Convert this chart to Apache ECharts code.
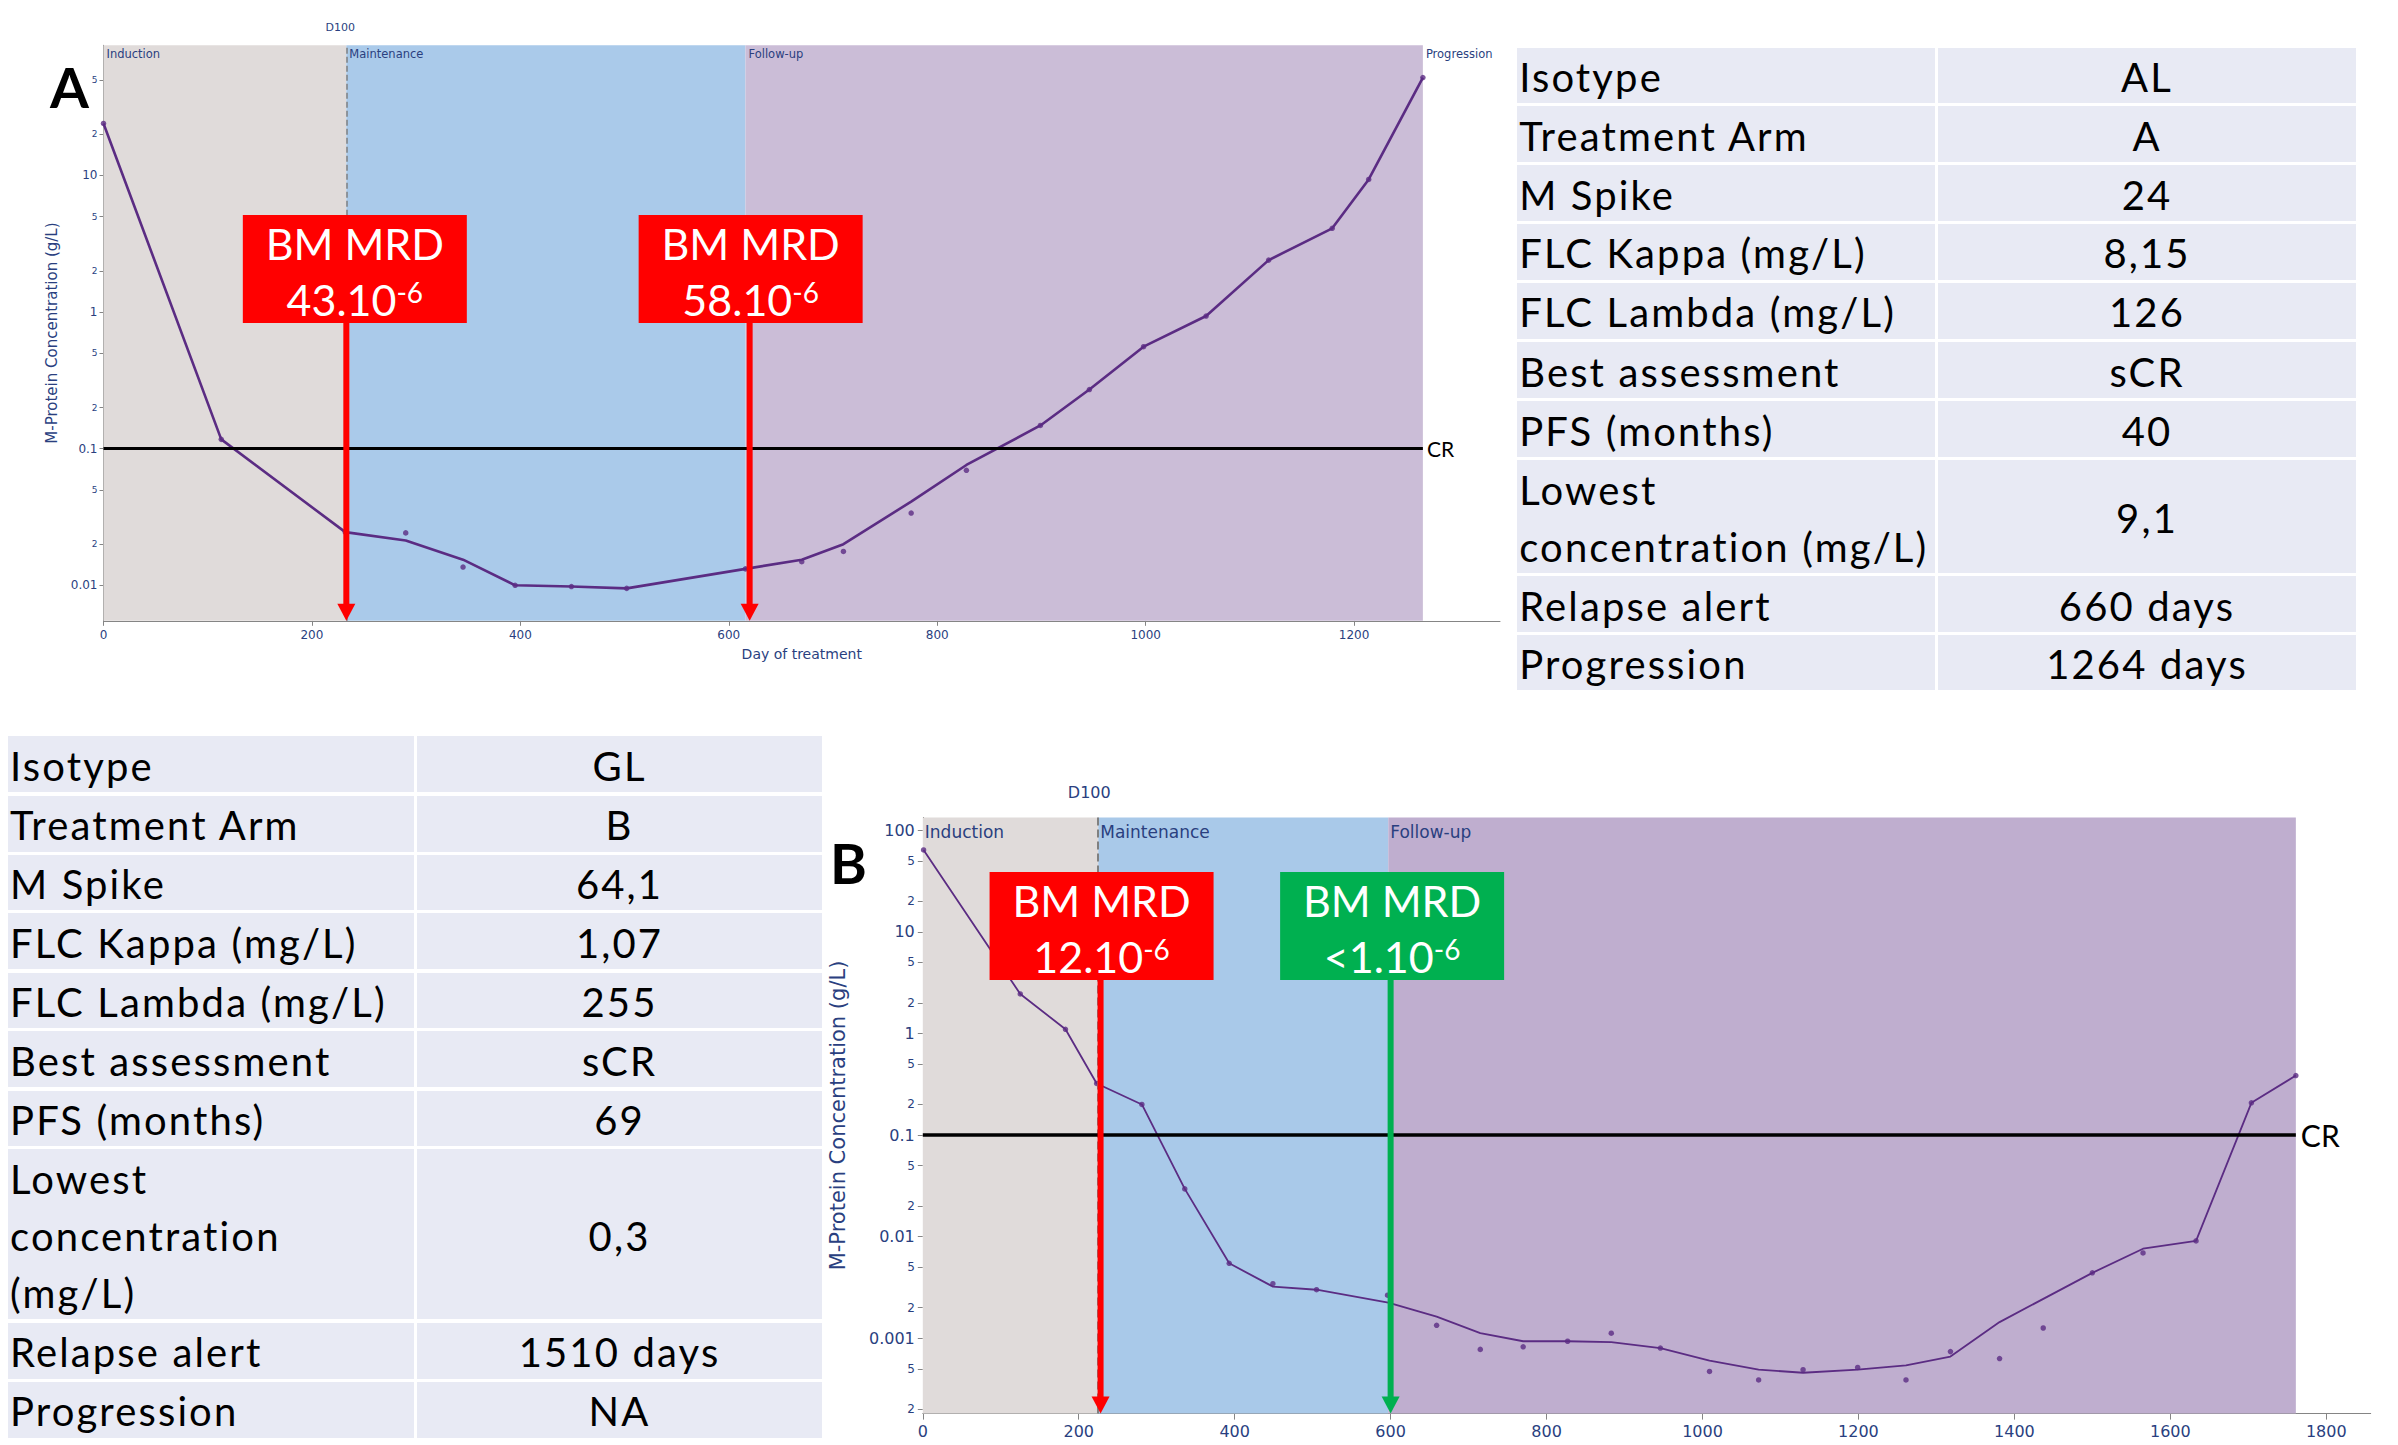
<!DOCTYPE html>
<html><head><meta charset="utf-8">
<script src="https://cdn.jsdelivr.net/npm/echarts@6/dist/echarts.min.js"></script>
<style>
html,body{margin:0;padding:0;background:#fff;width:2398px;height:1445px;overflow:hidden;}
#chart{position:absolute;left:0;top:0;width:2398px;height:1445px;}
.cell{position:absolute;background:#e8eaf4;font-family:Lato,'Open Sans',sans-serif;color:#000;display:flex;align-items:center;box-sizing:border-box;white-space:pre-line;line-height:57px;padding-top:4px;}
.lab{justify-content:flex-start;padding-left:2px;}
.val{justify-content:center;text-align:center;}
</style></head><body>
<div id="chart"></div>
<div id="tables"></div>
<script>
// ---------------- DATA ----------------
// Panel A (days, fitted curve and measured points, g/L)
const daysA = [0,113,232,290,345,395,449,502,616,670,710,775,828,899,946,998,1058,1118,1179,1214,1266];
const fitA = [24,0.117,0.0245,0.0213,0.0154,0.0100,0.0098,0.0095,0.0132,0.0154,0.0200,0.041,0.076,0.148,0.271,0.558,0.935,2.40,4.10,9.35,52];
const measuredA = [24,0.117,0.0245,0.0242,0.0136,0.0100,0.0098,0.0095,0.0132,0.0149,0.0177,0.0338,0.0695,0.148,0.271,0.558,0.935,2.40,4.10,9.35,52];
// Panel B
const fitDaysB = [1,125,183,223,281,336,393,449,505,597,659,715,770,827,883,946,1009,1072,1129,1199,1261,1318,1381,1500,1565,1633,1704,1761];
const fitB = [64.1,2.45,1.10,0.322,0.20,0.0295,0.00546,0.00322,0.0030,0.00224,0.00163,0.00112,0.000933,0.000933,0.000916,0.0008,0.0006,0.00049,0.000457,0.00049,0.00054,0.00066,0.00144,0.0044,0.0076,0.00908,0.2075,0.385];
const measDaysB = [1,125,183,223,281,336,393,449,505,596,659,715,770,827,883,946,1009,1072,1129,1199,1261,1318,1381,1437,1500,1565,1633,1704,1761];
const measB = [64.1,2.45,1.10,0.322,0.20,0.0295,0.00546,0.00344,0.0030,0.00265,0.00134,0.000776,0.000822,0.000933,0.00112,0.0008,0.000471,0.000388,0.00049,0.000515,0.000388,0.000738,0.000631,0.00126,0.0044,0.0069,0.00908,0.2075,0.385];

// Phases
const phaseNames = ['Induction','Maintenance','Follow-up'];
const phaseStartA = [0,233,616];
const phaseEndA = [233,616,1266];
const phaseStartB = [0,225,597];
const phaseEndB = [225,597,1761];
const progressionDayA = 1266;
const d100A = 233, d100B = 225;
const crLevel = 0.1;

// MRD annotations
const mrdDaysA = [233,620];
const mrdValuesA = ['43.10','58.10'];
const mrdExpA = ['-6','-6'];
const mrdDaysB = [228,600];
const mrdValuesB = ['12.10','<1.10'];
const mrdExpB = ['-6','-6'];

// Axes ticks
const xTicksA = [0,200,400,600,800,1000,1200];
const xTicksB = [0,200,400,600,800,1000,1200,1400,1600,1800];
const yTicksA = [0.01,0.02,0.05,0.1,0.2,0.5,1,2,5,10,20,50];
const yTickLabelsA = ['0.01','2','5','0.1','2','5','1','2','5','10','2','5'];
const yTicksB = [0.0002,0.0005,0.001,0.002,0.005,0.01,0.02,0.05,0.1,0.2,0.5,1,2,5,10,20,50,100];
const yTickLabelsB = ['2','5','0.001','2','5','0.01','2','5','0.1','2','5','1','2','5','10','2','5','100'];

// Tables
const tableALabels = ['Isotype','Treatment Arm','M Spike','FLC Kappa (mg/L)','FLC Lambda (mg/L)','Best assessment','PFS (months)','Lowest\nconcentration (mg/L)','Relapse alert','Progression'];
const tableAValues = ['AL','A','24','8,15','126','sCR','40','9,1','660 days','1264 days'];
const tableBLabels = ['Isotype','Treatment Arm','M Spike','FLC Kappa (mg/L)','FLC Lambda (mg/L)','Best assessment','PFS (months)','Lowest\nconcentration\n(mg/L)','Relapse alert','Progression'];
const tableBValues = ['GL','B','64,1','1,07','255','sCR','69','0,3','1510 days','NA'];

// ---------------- STYLE / LAYOUT ----------------
const FONT = 'DejaVu Sans';
const NAVY = '#2a3f7f';
const AXC = '#858585';
const PURPLE = '#5b2c83';
const phaseColorsA = ['#e0dbda','#aacaea','#cbbdd7'];
const phaseColorsB = ['#e0dbda','#a9c9e9','#bfaecf'];
const mrdColorsA = ['#ff0000','#ff0000'];
const mrdColorsB = ['#ff0000','#00b050'];
const tableEdgesA = [48,104.8,163.8,222.3,281.3,340.3,399.7,458.6,574.9,633.8,691.5];
const tableEdgesB = [736.2,794,853,911.9,971,1029.8,1089,1147.6,1321,1380,1439];

function logFmt(ticks, labels){
  return function(v){
    let best=-1, bd=1e9;
    ticks.forEach((t,i)=>{const d=Math.abs(Math.log10(t)-Math.log10(v)); if(d<bd){bd=d;best=i;}});
    if(best<0||bd>1e-3) return '';
    const lg=Math.log10(ticks[best]);
    const major=Math.abs(lg-Math.round(lg))<1e-6;
    return (major?'{maj|':'{mn|')+labels[best]+'}';
  };
}
const plainFmt = v => String(Math.round(v));

function mrdRender(vals, exps, colors, boxTop, shifts){
  return function(params, api){
    const i = api.value(2);
    const x = api.coord([api.value(0), 1])[0];
    const cs = params.coordSys;
    const bottom = cs.y + cs.height;
    const top = cs.y + boxTop;
    const cx = x + shifts[i];
    const col = colors[i];
    return {type:'group', children:[
      {type:'rect', shape:{x:x-3, y:top+100, width:6, height:bottom-16-top-100}, style:{fill:col}},
      {type:'polygon', shape:{points:[[x-9,bottom-17],[x+9,bottom-17],[x,bottom]]}, style:{fill:col}},
      {type:'rect', shape:{x:cx-112, y:top, width:224, height:108}, style:{fill:col}},
      {type:'text', style:{text:'BM MRD', x:cx, y:top+28, align:'center', verticalAlign:'middle', fill:'#fff', fontFamily:'Lato', fontSize:43}},
      {type:'text', style:{text:'{n|'+vals[i]+'}{s|'+exps[i]+'}', x:cx, y:top+84, align:'center', verticalAlign:'middle', fill:'#fff', fontFamily:'Lato', fontSize:43,
        rich:{n:{fontSize:43, fill:'#fff', fontFamily:'Lato'}, s:{fontSize:28, fill:'#fff', fontFamily:'Lato', verticalAlign:'top'}}}}
    ]};
  };
}

function phaseAreas(starts, ends, colors){
  return starts.map((s,i)=>[
    {xAxis:s, itemStyle:{color:colors[i]}, label:{show:true, formatter:phaseNames[i]}},
    {xAxis:ends[i]}
  ]);
}

const chart = echarts.init(document.getElementById('chart'), null, {renderer:'svg'});

const areasA = phaseAreas(phaseStartA, phaseEndA, phaseColorsA);
areasA.push([{xAxis:progressionDayA, itemStyle:{color:'rgba(0,0,0,0)'}, label:{show:true, formatter:'Progression'}},{xAxis:1340}]);
const areasB = phaseAreas(phaseStartB, phaseEndB, phaseColorsB);

const option = {
  animation:false,
  backgroundColor:'#fff',
  grid:[
    {left:103.5, top:45.3, width:1396.5, height:575.5},
    {left:922.8, top:817.4, width:1447.9, height:596.2}
  ],
  xAxis:[
    {gridIndex:0, type:'value', min:0, max:1340, interval:200,
     axisLine:{show:true, lineStyle:{color:AXC, width:1}},
     axisTick:{show:true, length:5, lineStyle:{color:AXC}, customValues:xTicksA},
     axisLabel:{customValues:xTicksA, formatter:plainFmt, color:NAVY, fontFamily:FONT, fontSize:12, margin:8},
     splitLine:{show:false},
     name:'Day of treatment', nameLocation:'middle', nameGap:26,
     nameTextStyle:{color:NAVY, fontFamily:FONT, fontSize:14}},
    {gridIndex:1, type:'value', min:0, max:1857, interval:200,
     axisLine:{show:true, lineStyle:{color:AXC, width:1}},
     axisTick:{show:true, length:6, lineStyle:{color:AXC}, customValues:xTicksB},
     axisLabel:{customValues:xTicksB, formatter:plainFmt, color:NAVY, fontFamily:FONT, fontSize:16, margin:10},
     splitLine:{show:false}}
  ],
  yAxis:[
    {gridIndex:0, type:'log', logBase:10, min:0.0055, max:89.6,
     axisLine:{show:true, lineStyle:{color:AXC, width:1}},
     axisTick:{show:true, length:4, lineStyle:{color:AXC}, customValues:yTicksA},
     axisLabel:{customValues:yTicksA, formatter:logFmt(yTicksA, yTickLabelsA), margin:6,
       rich:{maj:{fontSize:12, color:NAVY, fontFamily:FONT}, mn:{fontSize:9, color:NAVY, fontFamily:FONT}}},
     splitLine:{show:false}, minorTick:{show:false},
     name:'M-Protein Concentration (g/L)', nameLocation:'middle', nameGap:40, nameRotate:90,
     nameTextStyle:{color:NAVY, fontFamily:FONT, fontSize:15}},
    {gridIndex:1, type:'log', logBase:10, min:0.000181, max:134,
     axisLine:{show:true, lineStyle:{color:'#6e6e6e', width:1}},
     axisTick:{show:true, length:5, lineStyle:{color:AXC}, customValues:yTicksB},
     axisLabel:{customValues:yTicksB, formatter:logFmt(yTicksB, yTickLabelsB), margin:8,
       rich:{maj:{fontSize:16, color:NAVY, fontFamily:FONT}, mn:{fontSize:12, color:NAVY, fontFamily:FONT}}},
     splitLine:{show:false}, minorTick:{show:false},
     name:'M-Protein Concentration (g/L)', nameLocation:'middle', nameGap:74, nameRotate:90,
     nameTextStyle:{color:NAVY, fontFamily:FONT, fontSize:21}}
  ],
  series:[
    {type:'line', xAxisIndex:0, yAxisIndex:0, silent:true, z:3,
     data:daysA.map((d,i)=>[d, fitA[i]]), showSymbol:false,
     lineStyle:{color:PURPLE, width:2.6}, itemStyle:{color:PURPLE},
     markArea:{silent:true, z:1, data:areasA,
       label:{position:'insideTopLeft', distance:3, color:NAVY, fontFamily:FONT, fontSize:11.5}},
     markLine:{silent:true, symbol:['none','none'], animation:false, data:[
       {xAxis:d100A, lineStyle:{type:'dashed', color:'#808080', width:1.5},
        label:{show:true, position:'end', formatter:'D100', color:NAVY, fontFamily:FONT, fontSize:11, distance:12, offset:[-6,0]}},
       [{coord:[0,crLevel], lineStyle:{type:'solid', color:'#000', width:3},
         label:{show:true, position:'end', formatter:'CR', color:'#000', fontFamily:'Lato', fontSize:21, distance:4}},
        {coord:[progressionDayA,crLevel]}]
     ]}},
    {type:'scatter', xAxisIndex:0, yAxisIndex:0, silent:true, z:4,
     data:daysA.map((d,i)=>[d, measuredA[i]]), symbolSize:5.5, itemStyle:{color:PURPLE}},
    {type:'custom', xAxisIndex:0, yAxisIndex:0, silent:true, z:10, clip:false,
     data:mrdDaysA.map((d,i)=>[d,1,i]), encode:{x:0,y:1},
     renderItem:mrdRender(mrdValuesA, mrdExpA, mrdColorsA, 169.7, [8.5,1])},

    {type:'line', xAxisIndex:1, yAxisIndex:1, silent:true, z:3,
     data:fitDaysB.map((d,i)=>[d, fitB[i]]), showSymbol:false,
     lineStyle:{color:PURPLE, width:1.8}, itemStyle:{color:PURPLE},
     markArea:{silent:true, z:1, data:areasB,
       label:{position:'insideTopLeft', distance:2, offset:[0,4], color:NAVY, fontFamily:FONT, fontSize:17}},
     markLine:{silent:true, symbol:['none','none'], animation:false, data:[
       {xAxis:d100B, lineStyle:{type:'dashed', color:'#808080', width:2},
        label:{show:true, position:'end', formatter:'D100', color:NAVY, fontFamily:FONT, fontSize:16, distance:17, offset:[-9,0]}},
       [{coord:[0,crLevel], lineStyle:{type:'solid', color:'#000', width:3.5},
         label:{show:true, position:'end', formatter:'CR', color:'#000', fontFamily:'Lato', fontSize:30, distance:5}},
        {coord:[phaseEndB[2],crLevel]}]
     ]}},
    {type:'scatter', xAxisIndex:1, yAxisIndex:1, silent:true, z:4,
     data:measDaysB.map((d,i)=>[d, measB[i]]), symbolSize:5.5, itemStyle:{color:PURPLE}},
    {type:'custom', xAxisIndex:1, yAxisIndex:1, silent:true, z:10, clip:false,
     data:mrdDaysB.map((d,i)=>[d,1,i]), encode:{x:0,y:1},
     renderItem:mrdRender(mrdValuesB, mrdExpB, mrdColorsB, 54.6, [1,1.5])}
  ],
  graphic:[
    {type:'text', left:50, top:58, z:100, style:{text:'A', fontFamily:'Lato', fontWeight:'bold', fontSize:56, fill:'#000'}},
    {type:'text', left:830, top:834, z:100, style:{text:'B', fontFamily:'Lato', fontWeight:'bold', fontSize:56, fill:'#000'}}
  ]
};
chart.setOption(option);

// ---------------- TABLES ----------------
(function(){
  const fs = 40;
  const c = document.createElement('canvas').getContext('2d');
  c.font = fs+'px Lato';
  const w = c.measureText('Treatment Arm').width;
  const ls = Math.max(0, (291 - w) / 13);
  const host = document.getElementById('tables');
  function mk(cls, x, y, w, h, txt){
    const d = document.createElement('div');
    d.className = 'cell ' + cls;
    d.style.left = x+'px'; d.style.top = y+'px';
    d.style.width = w+'px'; d.style.height = h+'px';
    d.style.fontSize = fs+'px';
    d.style.letterSpacing = ls.toFixed(2)+'px';
    d.textContent = txt;
    host.appendChild(d);
  }
  function build(left, colX, right, edges, labels, values){
    for(let i=0;i<labels.length;i++){
      const top = edges[i] + (i===0?0:1.5);
      const h = edges[i+1] - 1.5 - top;
      mk('lab', left, top, colX-1.5-left, h, labels[i]);
      mk('val', colX+1.5, top, right-colX-1.5, h, values[i]);
    }
  }
  build(1517.2, 1936.4, 2356.2, tableEdgesA, tableALabels, tableAValues);
  build(8, 415.6, 822, tableEdgesB, tableBLabels, tableBValues);
})();
</script></body></html>
